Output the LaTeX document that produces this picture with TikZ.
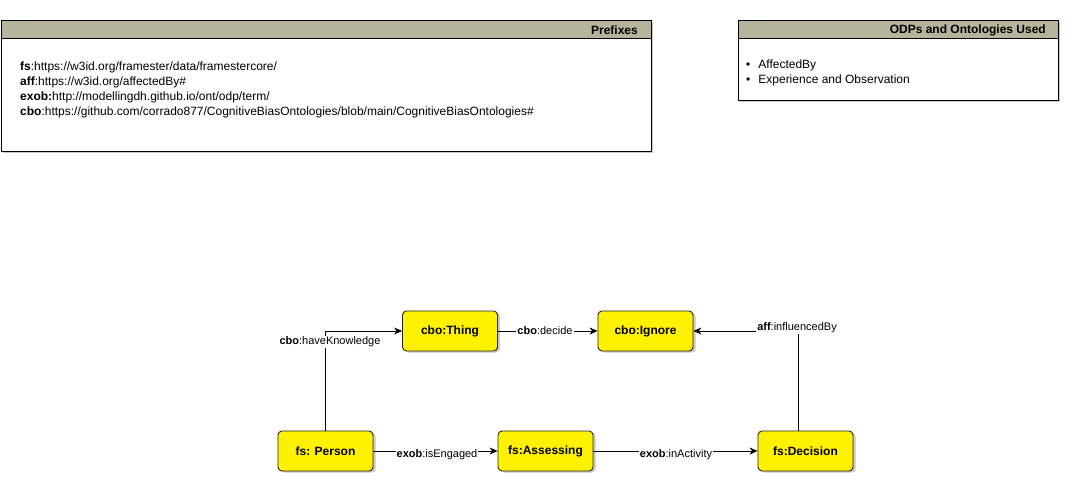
\documentclass[tikz,border=0pt]{standalone}
\usepackage{fontspec}
\setmainfont{Liberation Sans}
\usetikzlibrary{arrows.meta,positioning}
\definecolor{hdr}{RGB}{181,180,156}
\definecolor{shd}{RGB}{200,200,200}
\tikzset{
  cls/.style={draw=black!85, line width=0.9pt, fill=yellow, rounded corners=4pt,
    minimum width=95pt, minimum height=40pt, inner sep=0pt,
    font=\fontsize{12}{14}\selectfont\bfseries},
  shadowbox/.style={fill=shd, rounded corners=4pt, minimum width=95pt, minimum height=40pt},
  rel/.style={draw=black, line width=0.8pt, -{Stealth[length=8pt,width=7pt]}},
  lbl/.style={fill=white, inner sep=1pt, font=\fontsize{11}{13}\selectfont},
  boxtxt/.style={font=\fontsize{12}{15}\selectfont, anchor=north west, align=left, inner sep=0pt},
  hdrtxt/.style={font=\fontsize{12}{14}\selectfont\bfseries, anchor=east, inner sep=0pt},
}
\begin{document}
\begin{tikzpicture}[x=1pt,y=-1pt]
\useasboundingbox (0,0) rectangle (1070,482);
% Prefixes box
\fill[shd] (3,22) rectangle (653,153);
\draw[fill=white, line width=0.8pt] (1,20) rectangle (651,151);
\draw[fill=hdr, line width=0.8pt] (1,20) rectangle (651,38);
\node[hdrtxt] (pfxh) at (638,30) {Prefixes};
\node[boxtxt] (pfx) at (20,62) {\textbf{fs}:https://w3id.org/framester/data/framestercore/\\
\textbf{aff}:https://w3id.org/affectedBy\#\\
\textbf{exob:}http://modellingdh.github.io/ont/odp/term/\\
\textbf{cbo}:https://github.com/corrado877/CognitiveBiasOntologies/blob/main/CognitiveBiasOntologies\#};
% ODPs box
\fill[shd] (740,22) rectangle (1060,102);
\draw[fill=white, line width=0.8pt] (738,20) rectangle (1058,100);
\draw[fill=hdr, line width=0.8pt] (738,20) rectangle (1058,38);
\node[hdrtxt] (odph) at (1046,30) {ODPs and Ontologies Used};
\node[boxtxt] (odp) at (746,60) {•\hspace{8pt}AffectedBy\\ •\hspace{8pt}Experience and Observation};
% shadows of class nodes
\foreach \x/\y in {452.5/332.5,648/332.5,328/452.5,548/452.5,808/452.5}
  \node[shadowbox] at (\x,\y) {};
% class nodes
\node[cls] (thing) at (450,331) {cbo:Thing};
\node[cls] (ignore) at (645.5,331) {cbo:Ignore};
\node[cls] (person) at (325.5,451) {fs: Person};
\node[cls] (assess) at (545.5,451) {fs:Assessing};
\node[cls] (decision) at (805.5,451) {fs:Decision};
% connectors
\coordinate (c1) at (325,331);
\coordinate (c2) at (798,331);
\draw[rel] (person.north -| c1) -- (c1) -- (thing.west);
\node[lbl] (l1) at (330,342) {\textbf{cbo}:haveKnowledge};
\draw[rel] (thing.east) -- (ignore.west);
\node[lbl] (l2) at (545,331) {\textbf{cbo}:decide};
\draw[rel] (decision.north -| c2) -- (c2) -- (ignore.east);
\node[lbl] (l3) at (797,328) {\textbf{aff}:influencedBy};
\draw[rel] (person.east) -- (assess.west);
\node[lbl] (l4) at (437,455) {\textbf{exob}:isEngaged};
\draw[rel] (assess.east) -- (decision.west);
\node[lbl] (l5) at (676,455) {\textbf{exob}:inActivity};
\end{tikzpicture}
\end{document}
